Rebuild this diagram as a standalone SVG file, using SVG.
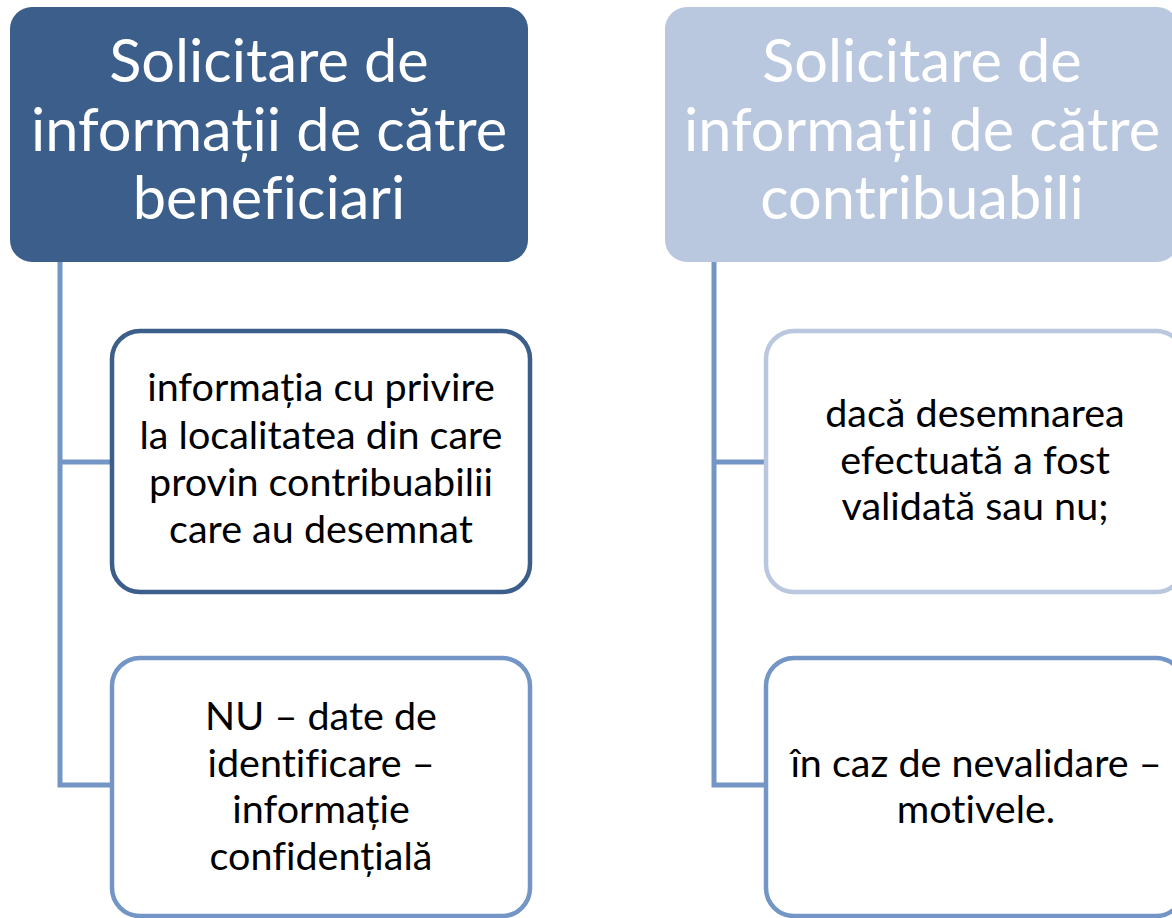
<svg xmlns="http://www.w3.org/2000/svg" width="1172" height="918" viewBox="0 0 1172 918">
<style>
.hd text{font-family:Lato,"Liberation Sans",sans-serif;font-size:59.5px;fill:#ffffff;text-anchor:middle;font-variant-ligatures:none}
.ch text{font-family:Lato,"Liberation Sans",sans-serif;font-size:39.5px;fill:#000000;text-anchor:middle;font-variant-ligatures:none}
.conn{fill:none;stroke:#7396C6;stroke-width:5}
.box{fill:#ffffff;stroke-width:4.5}
</style>
<rect width="1172" height="918" fill="#ffffff"/>
<g id="connectors">
<path class="conn" d="M60 262 V785 H112 M60 462 H112"/>
<path class="conn" d="M714 262 V785 H766 M714 462 H766"/>
</g>
<g id="head-left" class="hd">
<rect x="10" y="7" width="518" height="255" rx="22" fill="#3B5E8B"/>
<text x="269" y="82">Solicitare de</text>
<text x="269" y="151">informații de către</text>
<text x="269" y="219">beneficiari</text>
</g>
<g id="head-right" class="hd">
<rect x="665" y="7" width="514" height="255" rx="22" fill="#B9C7DF"/>
<text x="922" y="82">Solicitare de</text>
<text x="922" y="151">informații de către</text>
<text x="922" y="219">contribuabili</text>
</g>
<g id="child-l1" class="ch">
<rect class="box" x="112" y="331" width="418" height="261" rx="28" stroke="#3B5E8B"/>
<text x="321" y="401">informația cu privire</text>
<text x="321" y="449">la localitatea din care</text>
<text x="321" y="496">provin contribuabilii</text>
<text x="321" y="543">care au desemnat</text>
</g>
<g id="child-l2" class="ch">
<rect class="box" x="112" y="658" width="418" height="258" rx="28" stroke="#7396C6"/>
<text x="321" y="730">NU – date de</text>
<text x="321" y="777">identificare –</text>
<text x="321" y="823">informație</text>
<text x="321" y="870">confidențială</text>
</g>
<g id="child-r1" class="ch">
<rect class="box" x="766" y="331" width="418" height="261" rx="28" stroke="#B9C7DF"/>
<text x="975" y="427">dacă desemnarea</text>
<text x="975" y="474">efectuată a fost</text>
<text x="975" y="520">validată sau nu;</text>
</g>
<g id="child-r2" class="ch">
<rect class="box" x="766" y="658" width="418" height="258" rx="28" stroke="#7396C6"/>
<text x="976" y="777">în caz de nevalidare –</text>
<text x="976" y="823">motivele.</text>
</g>
</svg>
